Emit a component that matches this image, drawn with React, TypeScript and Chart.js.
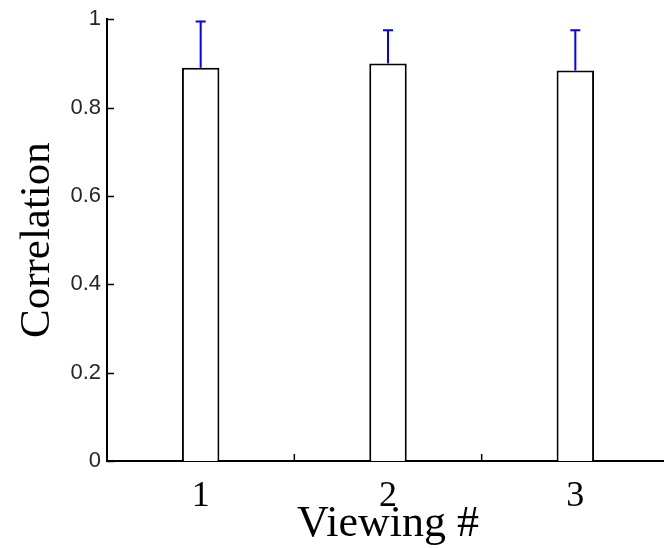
import React, { useEffect, useRef } from "react";
import { Chart, registerables } from "chart.js";

Chart.register(...registerables);

const categories = ["1", "2", "3"];
const correlation = [0.89, 0.9, 0.884];
const errorUpper = [0.105, 0.075, 0.091];
const yTickValues = [0, 0.2, 0.4, 0.6, 0.8, 1];
const yTickLabels = ["0", "0.2", "0.4", "0.6", "0.8", "1"];
const xTitle = "Viewing #";
const yTitle = "Correlation";

const errorBarPlugin = {
  id: "errorBars",
  afterDatasetsDraw(chart: any) {
    const ctx = chart.ctx;
    const meta = chart.getDatasetMeta(0);
    const yScale = chart.scales.y;
    ctx.save();
    ctx.strokeStyle = "#0000ff";
    ctx.lineWidth = 2;
    meta.data.forEach((bar: any, i: number) => {
      const x = bar.x;
      const y0 = yScale.getPixelForValue(correlation[i]);
      const y1 = yScale.getPixelForValue(correlation[i] + errorUpper[i]);
      ctx.beginPath();
      ctx.moveTo(x, y0);
      ctx.lineTo(x, y1);
      ctx.moveTo(x - 5, y1);
      ctx.lineTo(x + 5, y1);
      ctx.stroke();
    });
    ctx.restore();
  },
};

const innerTicksPlugin = {
  id: "innerTicks",
  afterDraw(chart: any) {
    const ctx = chart.ctx;
    const { x, y } = chart.scales;
    const area = chart.chartArea;
    ctx.save();
    ctx.strokeStyle = "#000";
    ctx.lineWidth = 1.5;
    ctx.beginPath();
    yTickValues.forEach((v) => {
      const py = Math.round(y.getPixelForValue(v)) + 0.5;
      ctx.moveTo(area.left, py);
      ctx.lineTo(area.left + 7, py);
    });
    for (let i = 1; i < categories.length; i++) {
      const px = (x.getPixelForValue(i - 1) + x.getPixelForValue(i)) / 2;
      ctx.moveTo(px, area.bottom);
      ctx.lineTo(px, area.bottom - 7);
    }
    ctx.stroke();
    ctx.restore();
  },
};

export default function App() {
  const ref = useRef<HTMLCanvasElement | null>(null);
  useEffect(() => {
    if (!ref.current) return;
    const chart = new Chart(ref.current, {
      type: "bar",
      data: {
        labels: categories,
        datasets: [
          {
            data: correlation,
            backgroundColor: "#ffffff",
            borderColor: "#000000",
            borderWidth: 2,
            barPercentage: 0.2,
            categoryPercentage: 1.0,
          },
        ],
      },
      options: {
        responsive: false,
        animation: false,
        devicePixelRatio: 1,
        layout: { padding: { top: 18, right: 11, left: 0, bottom: 0 } },
        plugins: { legend: { display: false }, tooltip: { enabled: false } },
        scales: {
          x: {
            type: "category",
            offset: true,
            grid: { display: false, drawTicks: false },
            border: { display: true, color: "#000", width: 2 },
            ticks: {
              color: "#000",
              padding: 14,
              font: { family: "'Liberation Serif', 'Times New Roman', serif", size: 36 },
            },
            title: {
              display: true,
              text: xTitle,
              color: "#000",
              font: { family: "'Liberation Serif', 'Times New Roman', serif", size: 44, lineHeight: 1 },
              padding: { top: 0, bottom: 2 },
            },
            afterFit: (s: any) => {
              s.height = 87;
            },
          },
          y: {
            min: 0,
            max: 1,
            grid: { display: false, drawTicks: false },
            border: { display: true, color: "#000", width: 2 },
            afterBuildTicks: (s: any) => {
              s.ticks = yTickValues.map((v) => ({ value: v }));
            },
            ticks: {
              color: "#262626",
              padding: 6,
              font: { family: "'Liberation Sans', Arial, sans-serif", size: 22 },
              callback: (_v: any, i: number) => yTickLabels[i],
            },
            title: {
              display: true,
              text: yTitle,
              color: "#000",
              font: { family: "'Liberation Serif', 'Times New Roman', serif", size: 43, lineHeight: 1 },
              padding: { top: 16, bottom: 0 },
            },
            afterFit: (s: any) => {
              s.width = 107;
            },
          },
        },
      },
      plugins: [errorBarPlugin, innerTicksPlugin],
    });
    return () => chart.destroy();
  }, []);
  return (
    <div
      style={{
        position: "fixed",
        left: 0,
        top: 0,
        width: 664,
        height: 548,
        overflow: "hidden",
        background: "#fff",
      }}
    >
      <canvas ref={ref} width={680} height={548} style={{ display: "block" }} />
    </div>
  );
}
